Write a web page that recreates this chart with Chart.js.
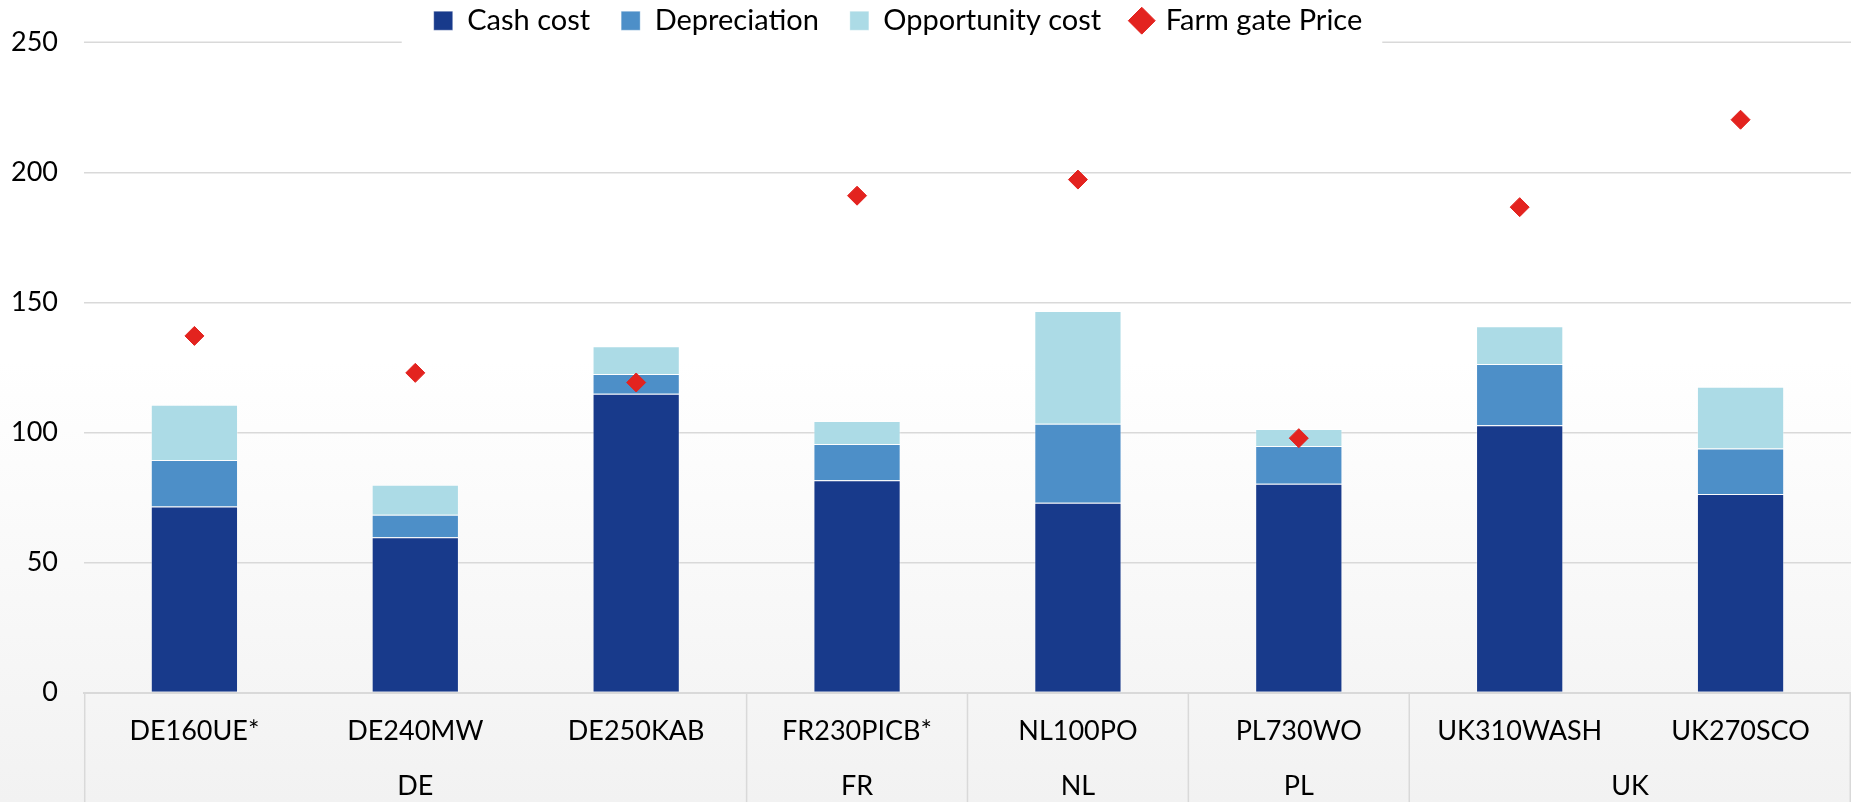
<!DOCTYPE html>
<html>
<head>
<meta charset="utf-8">
<script src="https://cdn.jsdelivr.net/npm/chart.js@4/dist/chart.umd.min.js"></script>
<style>
  html, body { margin: 0; padding: 0; background: #fff; }
  #wrap { width: 1851px; height: 802px; position: relative; }
</style>
</head>
<body>
<div id="wrap"><canvas id="costChart"></canvas></div>
<script>
// farms and their country
const farms = ['DE160UE*', 'DE240MW', 'DE250KAB', 'FR230PICB*', 'NL100PO', 'PL730WO', 'UK310WASH', 'UK270SCO'];
const countries = ['DE', 'DE', 'DE', 'FR', 'NL', 'PL', 'UK', 'UK'];

// cost components (stacked)
const cashCost = [71.5, 59.7, 114.9, 81.6, 73.0, 80.3, 102.8, 76.3];
const depreciation = [17.9, 8.7, 7.6, 14.0, 30.3, 14.5, 23.5, 17.5];
const opportunityCost = [21.2, 11.5, 10.6, 8.8, 43.4, 6.5, 14.5, 23.8];
const farmGatePrice = [137.1, 122.9, 119.2, 191.0, 197.2, 97.8, 186.6, 220.2];

const yTicks = [0, 50, 100, 150, 200, 250];

const gridColor = '#d9d9d9';
const fontSize = 27;
const legendFontSize = 29;

// group runs of the same country
const groups = [];
countries.forEach((c, i) => {
  const last = groups[groups.length - 1];
  if (last && last.name === c) last.end = i;
  else groups.push({ name: c, start: i, end: i });
});

Chart.defaults.font.family = 'Lato, "Open Sans", sans-serif';
Chart.defaults.font.size = fontSize;
Chart.defaults.color = '#000';

// page background: white fading to light grey at the bottom
const bgPlugin = {
  id: 'bg',
  beforeDraw(chart) {
    const { ctx, width, height } = chart;
    const g = ctx.createLinearGradient(0, 0, 0, height);
    g.addColorStop(0, '#ffffff');
    g.addColorStop(0.45, '#ffffff');
    g.addColorStop(1, '#f2f2f2');
    ctx.save();
    ctx.fillStyle = g;
    ctx.fillRect(0, 0, width, height);
    ctx.restore();
  }
};

// legend sits a bit left of centre in the original
const legendShift = {
  id: 'legendShift',
  afterLayout(chart) {
    chart.legend.left -= 20;
    chart.legend.right -= 20;
  }
};

// top gridline is broken where the legend sits
const topLinePlugin = {
  id: 'topLine',
  beforeDatasetsDraw(chart) {
    const { ctx, chartArea, scales } = chart;
    const boxes = chart.legend.legendHitBoxes;
    if (!boxes || !boxes.length) return;
    const gapL = boxes[0].left - 32;
    const lastBox = boxes[boxes.length - 1];
    const gapR = lastBox.left + lastBox.width + 20;
    const y = scales.y.getPixelForValue(yTicks[yTicks.length - 1]);
    ctx.save();
    ctx.strokeStyle = gridColor;
    ctx.lineWidth = 1.5;
    ctx.beginPath();
    ctx.moveTo(chartArea.left, y);
    ctx.lineTo(gapL, y);
    ctx.moveTo(gapR, y);
    ctx.lineTo(chartArea.right, y);
    ctx.stroke();
    ctx.restore();
  }
};

// country separators and labels under the farm labels
const groupLabelPlugin = {
  id: 'groupLabels',
  afterDraw(chart) {
    const { ctx, scales, chartArea, height } = chart;
    const x = scales.x;
    const half = (x.getPixelForValue(1) - x.getPixelForValue(0)) / 2;
    ctx.save();
    ctx.strokeStyle = gridColor;
    ctx.lineWidth = 1.5;
    ctx.beginPath();
    const edges = [x.getPixelForValue(0) - half];
    groups.forEach(g => edges.push(x.getPixelForValue(g.end) + half));
    edges.forEach(px => {
      const xx = Math.min(Math.max(px, chartArea.left + 0.75), chartArea.right - 0.75);
      ctx.moveTo(xx, chartArea.bottom);
      ctx.lineTo(xx, height);
    });
    ctx.stroke();
    ctx.font = fontSize + 'px ' + Chart.defaults.font.family;
    ctx.fillStyle = '#000';
    ctx.textAlign = 'center';
    ctx.textBaseline = 'middle';
    groups.forEach(g => {
      const cx = (x.getPixelForValue(g.start) + x.getPixelForValue(g.end)) / 2;
      ctx.fillText(g.name, cx, chartArea.bottom + 94);
    });
    ctx.restore();
  }
};

new Chart(document.getElementById('costChart'), {
  data: {
    labels: farms,
    datasets: [
      {
        type: 'line', label: 'Farm gate Price', data: farmGatePrice,
        showLine: false, pointStyle: 'rectRot', pointRadius: 9.5, pointHoverRadius: 9.5,
        backgroundColor: '#e3231f', borderColor: '#e3231f', borderWidth: 1,
        stack: 'price', order: 0
      },
      {
        type: 'bar', label: 'Cash cost', data: cashCost,
        backgroundColor: '#183a8b', borderColor: 'rgba(255,255,255,0.35)', borderWidth: 1,
        pointStyle: 'rect', stack: 'cost', order: 1
      },
      {
        type: 'bar', label: 'Depreciation', data: depreciation,
        backgroundColor: '#4d8fc8', borderColor: 'rgba(255,255,255,0.35)', borderWidth: 1,
        pointStyle: 'rect', stack: 'cost', order: 1
      },
      {
        type: 'bar', label: 'Opportunity cost', data: opportunityCost,
        backgroundColor: '#acdbe6', borderColor: 'rgba(255,255,255,0.35)', borderWidth: 1,
        pointStyle: 'rect', stack: 'cost', order: 1
      }
    ]
  },
  options: {
    responsive: true,
    maintainAspectRatio: false,
    animation: false,
    layout: { autoPadding: false, padding: { top: -26, left: -15, right: 0, bottom: 33 } },
    datasets: { bar: { categoryPercentage: 1, barPercentage: 0.395 } },
    plugins: {
      tooltip: { enabled: false },
      legend: {
        position: 'top',
        maxHeight: 67,
        labels: {
          usePointStyle: true,
          boxWidth: 19,
          boxHeight: 19,
          padding: 31,
          color: '#000',
          font: { size: legendFontSize },
          sort: (a, b) => (a.datasetIndex === 0 ? 1 : 0) - (b.datasetIndex === 0 ? 1 : 0)
        }
      }
    },
    scales: {
      x: {
        stacked: true,
        grid: { display: false, drawTicks: false },
        border: { display: true, color: gridColor, width: 2 },
        ticks: { padding: 22, color: '#000', font: { size: fontSize }, maxRotation: 0, autoSkip: false }
      },
      y: {
        stacked: true,
        min: yTicks[0],
        max: yTicks[yTicks.length - 1],
        afterBuildTicks: (s) => { s.ticks = yTicks.map(v => ({ value: v })); },
        grid: {
          drawTicks: false,
          color: (c) => c.tick && c.tick.value === yTicks[yTicks.length - 1] ? 'transparent' : gridColor,
          lineWidth: 1.5
        },
        border: { display: false },
        ticks: { padding: 26, color: '#000', font: { size: fontSize } }
      }
    }
  },
  plugins: [bgPlugin, legendShift, topLinePlugin, groupLabelPlugin]
});
</script>
</body>
</html>
